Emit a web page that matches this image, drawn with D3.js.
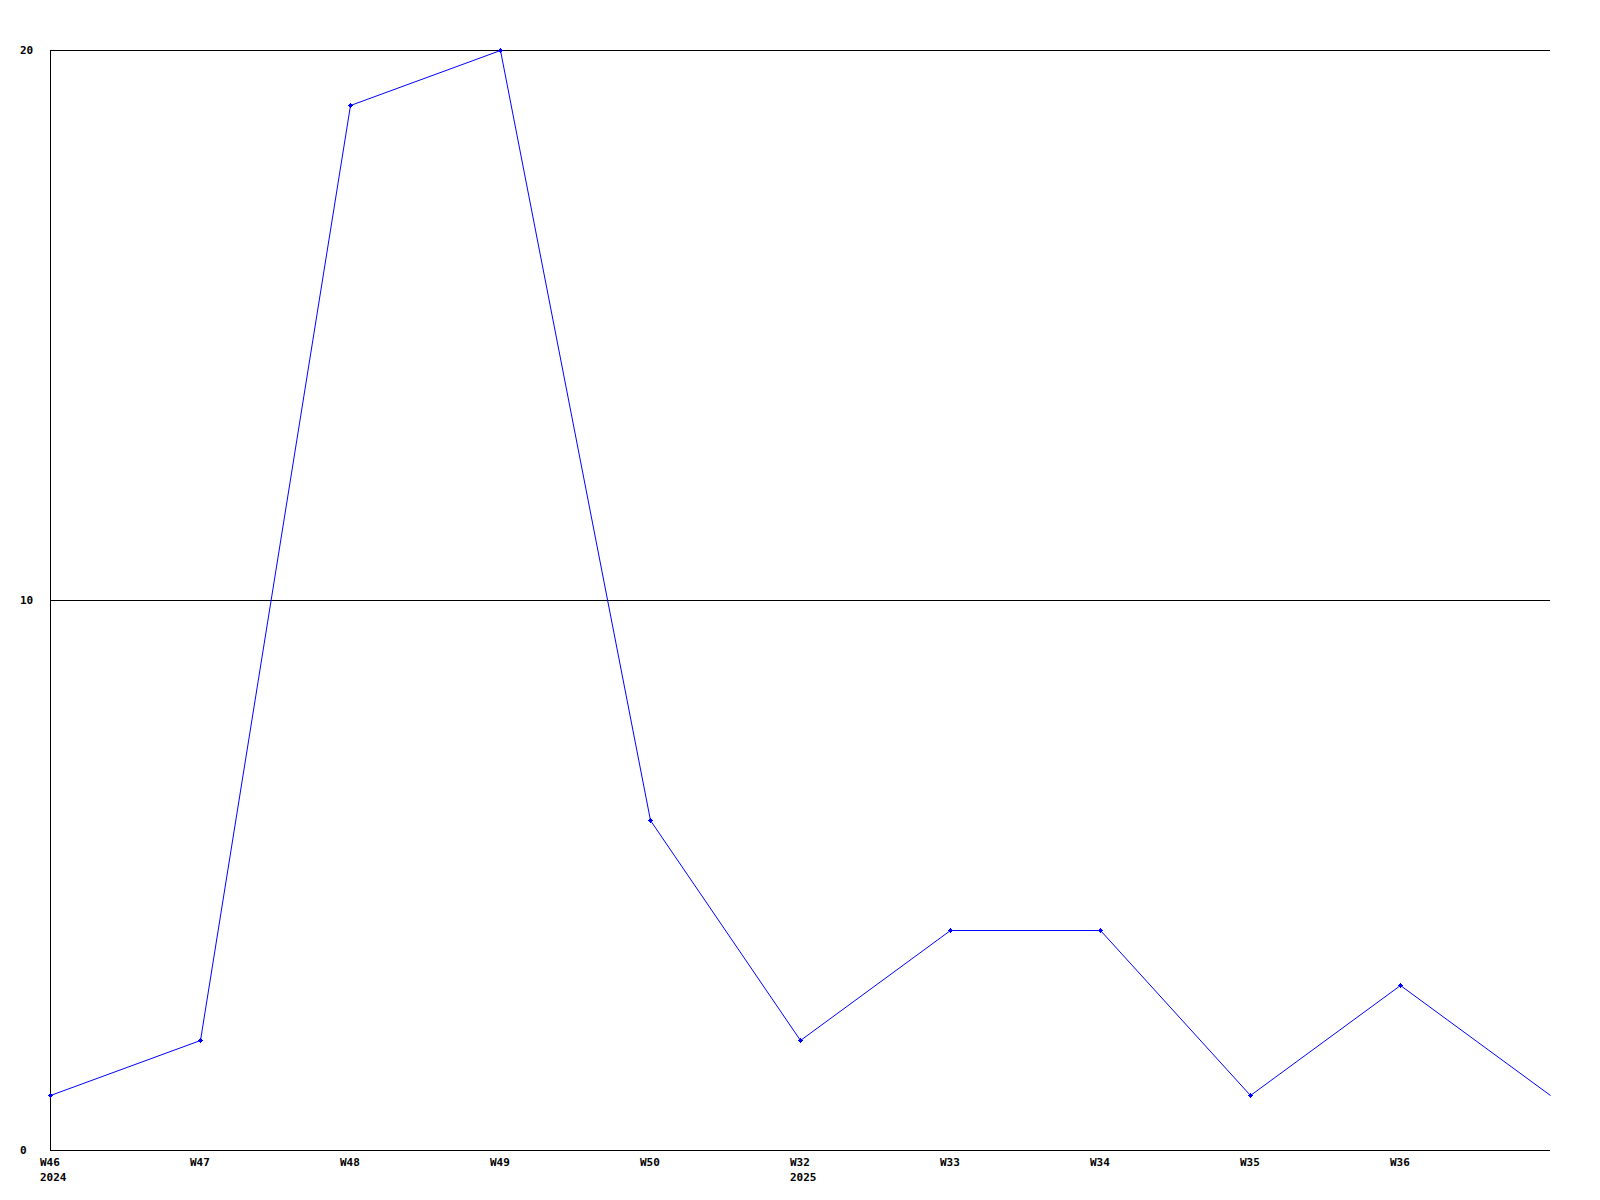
<!DOCTYPE html>
<html>
<head>
<meta charset="utf-8">
<script src="https://cdn.jsdelivr.net/npm/d3@7"></script>
<style>
  body { margin: 0; background: #fff; }
  text { font-family: "DejaVu Sans Mono", monospace; font-weight: bold; font-size: 11px; fill: #000; }
</style>
</head>
<body>
<div id="chart-area"></div>
<script>
// weeks along the x axis (last point has no label)
var weeks = ["W46", "W47", "W48", "W49", "W50", "W32", "W33", "W34", "W35", "W36", ""];
var years = ["2024", "", "", "", "", "2025", "", "", "", "", ""];
var counts = [1, 2, 19, 20, 6, 2, 4, 4, 1, 3, 1];
var yTicks = [0, 10, 20];

var margin = { left: 50, right: 50, top: 50, bottom: 50 };
var width = 1600 - margin.left - margin.right;
var height = 1200 - margin.top - margin.bottom;

var svg = d3.select("#chart-area")
    .append("svg")
    .attr("width", 1600)
    .attr("height", 1200)
    .append("g")
    .attr("transform", "translate(" + margin.left + ", " + margin.top + ")");

var x = d3.scalePoint().domain(d3.range(weeks.length)).range([0, width]);
var y = d3.scaleLinear().domain([0, 20]).range([height, 0]);

// horizontal grid lines
svg.selectAll(".grid")
    .data(yTicks.filter(d => d > 0))
    .enter().append("line")
    .attr("class", "grid")
    .attr("x1", 0)
    .attr("x2", width)
    .attr("y1", d => Math.round(y(d)) + 0.5)
    .attr("y2", d => Math.round(y(d)) + 0.5)
    .attr("stroke", "#000")
    .attr("shape-rendering", "crispEdges");

// axes lines
svg.append("line")
    .attr("x1", 0.5).attr("x2", 0.5)
    .attr("y1", 0).attr("y2", height + 0.5)
    .attr("stroke", "#000")
    .attr("shape-rendering", "crispEdges");
svg.append("line")
    .attr("x1", 0).attr("x2", width)
    .attr("y1", height + 0.5).attr("y2", height + 0.5)
    .attr("stroke", "#000")
    .attr("shape-rendering", "crispEdges");

// y tick labels
svg.selectAll(".ylab")
    .data(yTicks)
    .enter().append("text")
    .attr("class", "ylab")
    .attr("x", -30)
    .attr("y", d => y(d))
    .attr("dy", "0.35em")
    .text(d => d);

// x tick labels
var xl = svg.selectAll(".xlab")
    .data(d3.range(weeks.length))
    .enter().append("g")
    .attr("class", "xlab")
    .attr("transform", d => "translate(" + (x(d) - 10) + ", " + (height + 12) + ")");
xl.append("text").attr("dy", "0.35em").text(d => weeks[d]);
xl.append("text").attr("y", 15).attr("dy", "0.35em").text(d => years[d]);

// the line
var line = d3.line()
    .x((d, i) => x(i) + 0.5)
    .y(d => y(d) + 0.5);

svg.append("path")
    .datum(counts)
    .attr("d", line)
    .attr("fill", "none")
    .attr("stroke", "#0000ff")
    .attr("stroke-width", 1);

// plus markers on labelled points
var marks = svg.selectAll(".mark")
    .data(counts.filter((d, i) => weeks[i] !== ""))
    .enter().append("g")
    .attr("class", "mark")
    .attr("transform", (d, i) => "translate(" + Math.round(x(i)) + ", " + Math.round(y(d)) + ")");

marks.append("path")
    .attr("d", "M-2,0.5H3M0.5,-2V3")
    .attr("stroke", "#0000ff")
    .attr("shape-rendering", "crispEdges");
marks.append("rect")
    .attr("x", -1).attr("y", -1)
    .attr("width", 3).attr("height", 3)
    .attr("fill", "#0000ff");
</script>
</body>
</html>
